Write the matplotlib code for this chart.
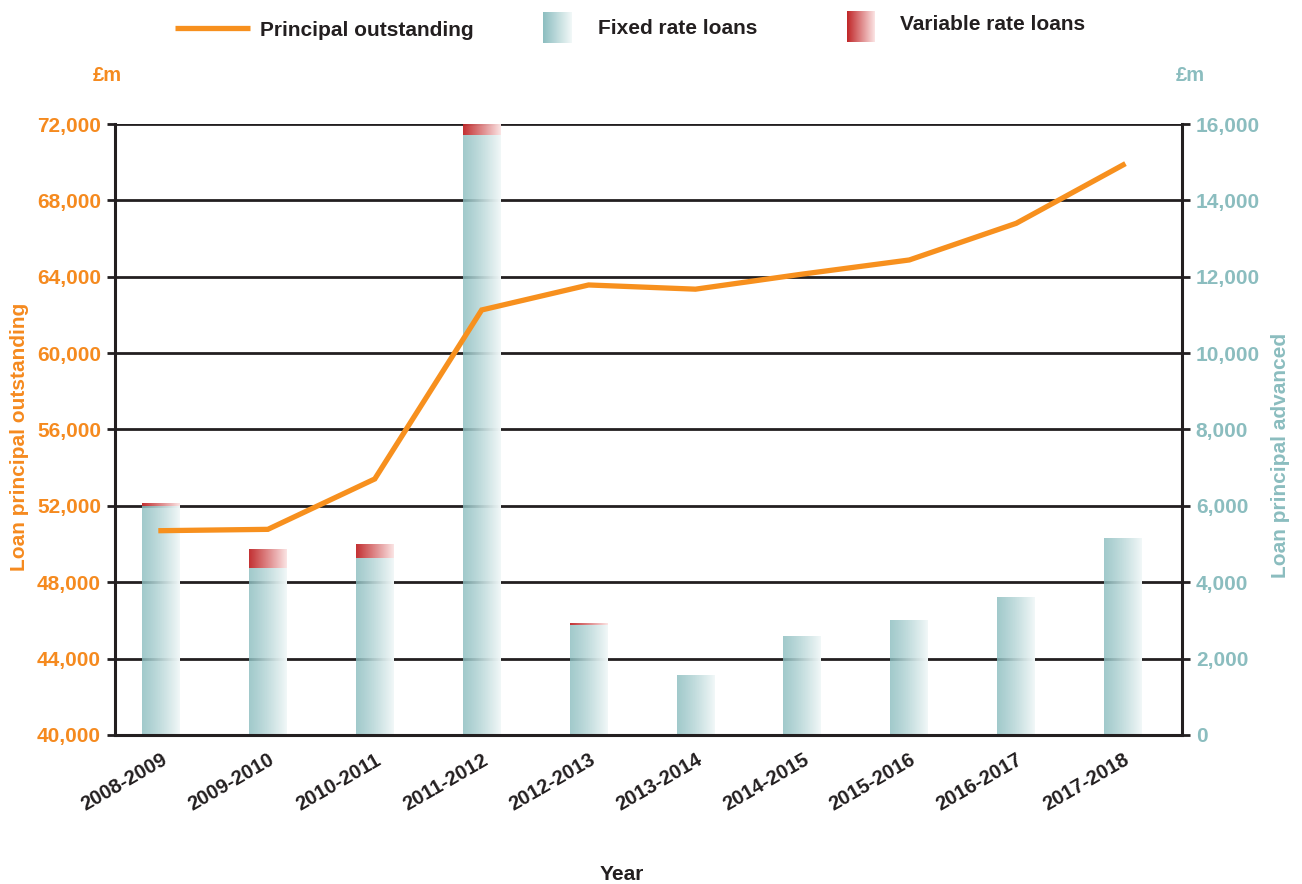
import numpy as np
import matplotlib
matplotlib.use('Agg')
import matplotlib.pyplot as plt

years = ['2008-2009', '2009-2010', '2010-2011', '2011-2012', '2012-2013',
         '2013-2014', '2014-2015', '2015-2016', '2016-2017', '2017-2018']
principal_outstanding = [50700, 50770, 53410, 62260, 63570, 63350, 64140, 64880, 66800, 69860]
fixed_rate = [6000, 4360, 4630, 15710, 2880, 1550, 2590, 3010, 3590, 5150]
variable_rate = [70, 480, 350, 290, 50, 0, 0, 0, 0, 0]
left_ticks = [40000, 44000, 48000, 52000, 56000, 60000, 64000, 68000, 72000]
right_ticks = [0, 2000, 4000, 6000, 8000, 10000, 12000, 14000, 16000]

ORANGE = '#f7901e'
ORANGE_TXT = '#f58a1f'
TEAL_TXT = '#8bbdbf'
DARK = '#231f20'
TEAL0 = np.array([140, 190, 192]) / 255
TEAL1 = np.array([242, 248, 248]) / 255
RED0 = np.array([192, 38, 40]) / 255
RED1 = np.array([251, 228, 228]) / 255

plt.rcParams['font.family'] = ['Liberation Sans', 'DejaVu Sans']
plt.rcParams['font.weight'] = 'bold'


def grad(c0, c1, a0=1.0, a1=1.0, n=128):
    t = np.linspace(0, 1, n)
    rgb = np.outer(1 - t, c0) + np.outer(t, c1)
    a = (1 - t) * a0 + t * a1
    return np.dstack([rgb[:, 0], rgb[:, 1], rgb[:, 2], a]).reshape(1, n, 4)


fig = plt.figure(figsize=(13.02, 8.84), dpi=100)
ax = fig.add_axes([0.0883, 0.1686, 0.8195, 0.6911])
ax2 = ax.twinx()
ax.set_zorder(ax2.get_zorder() + 1)
ax.patch.set_visible(False)

x = np.arange(len(years))
w = 0.355

# gridlines (under the bars)
for v in right_ticks[1:]:
    ax2.axhline(v, color=DARK, lw=2.0, zorder=1)

teal_img = grad(TEAL0, TEAL1, 0.82, 1.0)
red_img = grad(RED0, RED1, 0.95, 1.0)
for xi, f, v in zip(x, fixed_rate, variable_rate):
    ax2.imshow(teal_img, extent=[xi - w / 2, xi + w / 2, 0, f], aspect='auto',
               zorder=2, interpolation='bilinear')
    if v > 0:
        ax2.imshow(red_img, extent=[xi - w / 2, xi + w / 2, f, f + v], aspect='auto',
                   zorder=2, interpolation='bilinear')

ax.plot(x, principal_outstanding, color=ORANGE, lw=3.8, zorder=3,
        solid_joinstyle='miter')

ax.set_xlim(-0.43, 9.55)
ax.set_ylim(40000, 72000)
ax2.set_ylim(0, 16000)
ax2.set_xlim(-0.43, 9.55)

ax.set_yticks(left_ticks)
ax.set_yticklabels([f'{v:,}' for v in left_ticks])
ax2.set_yticks(right_ticks)
ax2.set_yticklabels([f'{v:,}' for v in right_ticks])
ax.set_xticks(x)
ax.set_xticklabels(years, rotation=30, ha='right', rotation_mode='anchor',
                   fontsize=14.5, fontweight='bold', color=DARK)

ax.tick_params(axis='y', direction='out', length=6, width=2, color=DARK,
               labelcolor=ORANGE_TXT, labelsize=15, pad=4)
ax2.tick_params(axis='y', direction='out', length=6, width=2, color=DARK,
                labelcolor=TEAL_TXT, labelsize=15, pad=4)
ax.tick_params(axis='x', length=0, pad=11)

for sp in ['top']:
    ax.spines[sp].set_visible(False)
    ax2.spines[sp].set_visible(False)
ax2.spines['left'].set_visible(False)
ax2.spines['bottom'].set_visible(False)
ax.spines['right'].set_visible(False)
for sp in ['left', 'bottom']:
    ax.spines[sp].set_linewidth(2.2)
    ax.spines[sp].set_color(DARK)
ax2.spines['right'].set_linewidth(2.2)
ax2.spines['right'].set_color(DARK)

ax.set_ylabel('Loan principal outstanding', color=ORANGE_TXT, fontsize=15,
              fontweight='bold')
ax.yaxis.set_label_coords(-0.081, 0.488)
ax2.set_ylabel('Loan principal advanced', color=TEAL_TXT, fontsize=15,
               fontweight='bold', rotation=90)
ax2.yaxis.set_label_coords(1.083, 0.457)

ax.text(-0.007, 1.08, '£m', transform=ax.transAxes, ha='center', va='center',
        color=ORANGE_TXT, fontsize=14.5, fontweight='bold')
ax.text(1.008, 1.08, '£m', transform=ax.transAxes, ha='center', va='center',
        color=TEAL_TXT, fontsize=14.5, fontweight='bold')

fig.text(622 / 1302, 1 - 875 / 884, 'Year', ha='center', va='center',
         fontsize=15, fontweight='bold', color=DARK)

# legend (overlay in pixel coordinates)
lg = fig.add_axes([0, 0, 1, 1], zorder=10)
lg.set_xlim(0, 1302)
lg.set_ylim(884, 0)
lg.axis('off')
lg.patch.set_visible(False)
lg.plot([175, 250], [28, 28], color=ORANGE, lw=3.8, solid_capstyle='butt')
lg.text(260, 30, 'Principal outstanding', va='center', ha='left', fontsize=15,
        fontweight='bold', color=DARK)
lg.imshow(grad(TEAL0, TEAL1), extent=[543, 572, 43, 12], aspect='auto',
          interpolation='bilinear')
lg.text(598, 28, 'Fixed rate loans', va='center', ha='left', fontsize=15,
        fontweight='bold', color=DARK)
lg.imshow(grad(RED0, RED1), extent=[847, 875, 42, 11], aspect='auto',
          interpolation='bilinear')
lg.text(900, 25, 'Variable rate loans', va='center', ha='left', fontsize=15,
        fontweight='bold', color=DARK)
lg.set_xlim(0, 1302)
lg.set_ylim(884, 0)

fig.savefig('out.png', dpi=100)
